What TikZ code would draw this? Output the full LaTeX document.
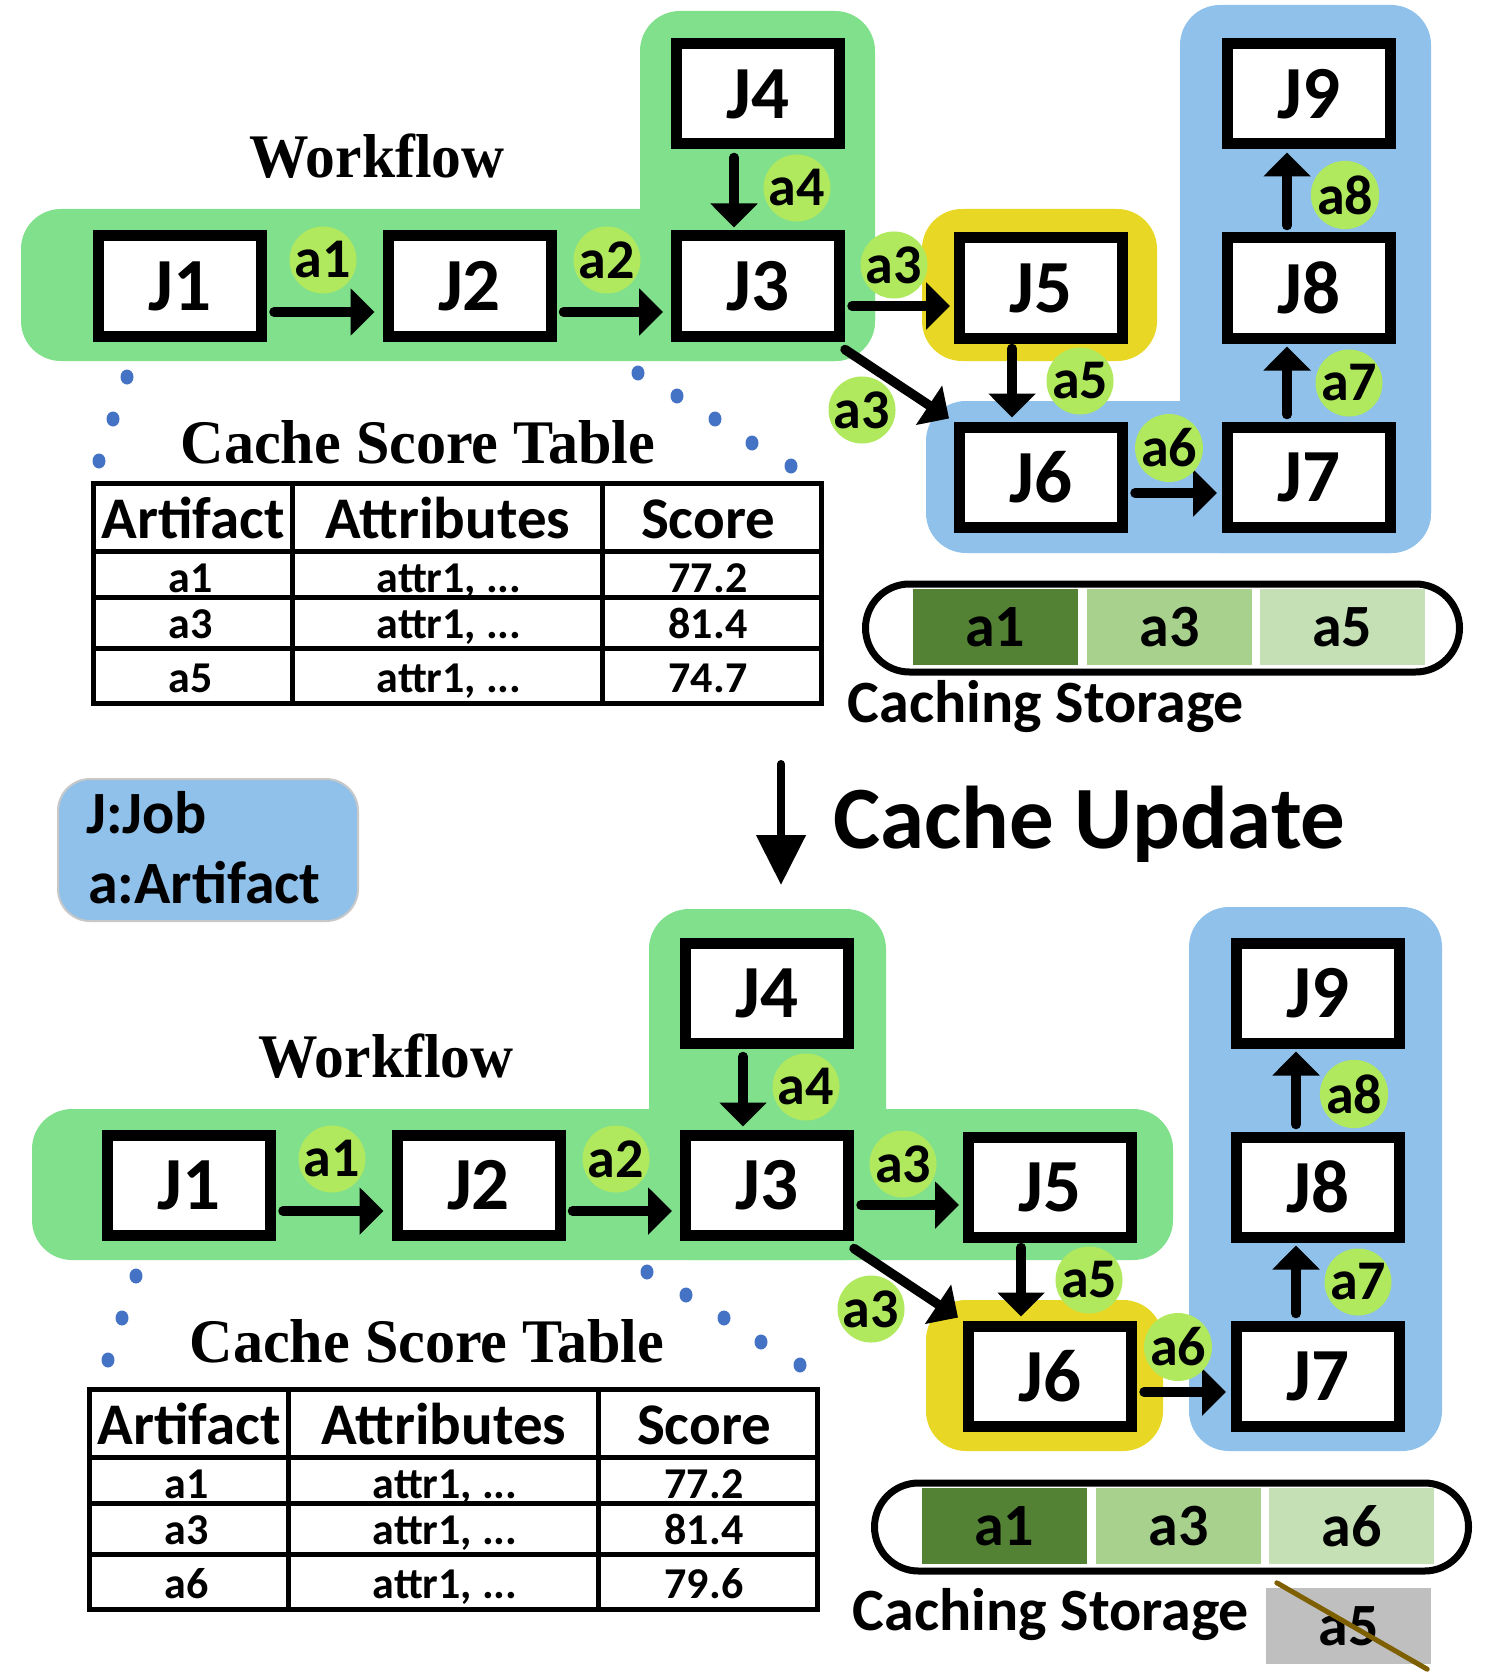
\documentclass[tikz,border=0pt]{standalone}
\usepackage{fontspec}
\usetikzlibrary{arrows.meta,calc}
\newfontfamily\calfont{Carlito}
\newfontfamily\tmsfont{Liberation Serif}
\definecolor{wfgreen}{HTML}{80E08C}
\definecolor{labgreen}{HTML}{B0E85E}
\definecolor{jblue}{HTML}{8FC1EA}
\definecolor{jyellow}{HTML}{E8D825}
\definecolor{dotblue}{HTML}{4472C4}
\definecolor{cdark}{HTML}{548235}
\definecolor{cmid}{HTML}{A9D18E}
\definecolor{clight}{HTML}{C5E0B4}
\definecolor{cgrey}{HTML}{BFBFBF}
\definecolor{strikebrown}{HTML}{7F6000}
\definecolor{legborder}{HTML}{C8C8C8}
\newcommand\celltxt[1]{\raisebox{-5pt}{#1}}
\tikzset{
  jbox/.style={draw=black, fill=white, line width=11pt, minimum width=163pt, minimum height=100pt, inner sep=0pt, font=\calfont\bfseries\fontsize{75}{75}\selectfont},
  lab/.style={circle, fill=labgreen, inner sep=0pt, minimum size=66pt, font=\calfont\bfseries\fontsize{56}{56}\selectfont},
  arr/.style={line width=9.5pt, line cap=round, -{Triangle[length=24pt,width=46pt]}},
  bgshape/.style={rounded corners=40pt},
  bdot/.style={fill=dotblue},
  ttl/.style={anchor=base, inner sep=0pt, font=\tmsfont\bfseries\fontsize{62}{62}\selectfont},
  tline/.style={line width=5pt},
  thead/.style={anchor=base, inner sep=0pt, font=\calfont\bfseries\fontsize{59}{59}\selectfont},
  tcell/.style={anchor=base, inner sep=0pt, font=\calfont\bfseries\fontsize{44}{44}\selectfont},
  capsule/.style={draw=black, line width=7pt, rounded corners=44pt, minimum width=594pt, minimum height=88pt, inner sep=0pt},
  cell/.style={minimum width=165pt, minimum height=76pt, inner sep=0pt, font=\calfont\bfseries\fontsize{60}{60}\selectfont},
  capt/.style={anchor=base, inner sep=0pt, font=\calfont\bfseries\fontsize{60}{60}\selectfont},
  legtxt/.style={anchor=base west, inner sep=0pt, font=\calfont\bfseries\fontsize{60}{60}\selectfont},
}
\newcommand\WFcore{%
  \node[jbox] (J1) at (180,286) {J1};
  \node[jbox] (J2) at (469.5,286) {J2};
  \node[jbox] (J3) at (758,286) {J3};
  \node[jbox] (J4) at (758,94) {J4};
  \node[jbox] (J5) at (1041,288) {J5};
  \node[jbox] (J6) at (1041,477) {J6};
  \node[jbox] (J7) at (1309,477) {J7};
  \node[jbox] (J8) at (1309,288) {J8};
  \node[jbox] (J9) at (1309,94) {J9};
  \draw[arr] ($(J1.east)+(7,26)$) -- ($(J2.west)+(-8,26)$);
  \draw[arr] ($(J2.east)+(7,26)$) -- ($(J3.west)+(-8,26)$);
  \draw[arr] ($(J4.south)+(-24,8)$) -- ($(J3.north)+(-24,-3)$);
  \draw[arr] ($(J3.east)+(7,20)$) -- ($(J5.west)+(-4,18)$);
  \draw[arr] ($(J3.south east)+(0,8)$) -- ($(J6.north west)+(-5,-3)$);
  \draw[arr] ($(J5.south)+(-29,5)$) -- ($(J6.north)+(-29,-4)$);
  \draw[arr] ($(J6.east)+(7,16)$) -- ($(J7.west)+(-5,16)$);
  \draw[arr] ($(J7.north)+(-22,-7)$) -- ($(J8.south)+(-22,3)$);
  \draw[arr] ($(J8.north)+(-22,-7)$) -- ($(J9.south)+(-22,3)$);
  \node[lab] (L1) at (323,260) {a1};
  \node[lab] (L2) at (607,260) {a2};
  \node[lab] (L4) at (797,188) {a4};
  \node[lab] (L3) at (894,265) {a3};
  \node[lab] (L3b) at (862,410) {a3};
  \node[lab] (L5) at (1080,381) {a5};
  \node[lab] (L6) at (1169,448) {a6};
  \node[lab] (L7) at (1349,383) {a7};
  \node[lab] (L8) at (1345,195) {a8};
  \foreach \p in {(127,377),(113,419),(99,461),(638,373),(677,396),(715,419),(752,443),(791,466)}
    \fill[bdot] \p ellipse [x radius=6.5pt, y radius=7.5pt];
  \node[ttl] (WF) at (377,178) {\scalebox{0.96}[1]{Workflow}};
  \node[ttl] (CST) at (418,463) {\scalebox{0.97}[1]{Cache Score Table}};
}
\newcommand\ScoreTable[2]{%
  \draw[tline] (93,483) rectangle (821,703);
  \draw[tline] (93,551) -- (821,551) (93,597) -- (821,597) (93,648) -- (821,648);
  \draw[tline] (292,483) -- (292,703) (602,483) -- (602,703);
  \node[thead] (H1) at (193,538) {Artifact};
  \node[thead] (H2) at (448,538) {Attributes};
  \node[thead] (H3) at (708,538) {Score};
  \node[tcell] (R1a) at (191,592) {a1};
  \node[tcell] (R1b) at (449,592) {attr1, ...};
  \node[tcell] (R1c) at (708,592) {77.2};
  \node[tcell] (R2a) at (191,638) {a3};
  \node[tcell] (R2b) at (449,638) {attr1, ...};
  \node[tcell] (R2c) at (708,638) {81.4};
  \node[tcell] (R3a) at (191,692) {#1};
  \node[tcell] (R3b) at (449,692) {attr1, ...};
  \node[tcell] (R3c) at (708,692) {#2};
}
\begin{document}
\begin{tikzpicture}[x=1pt,y=-1pt]
\useasboundingbox (0,0) rectangle (1492,1677);
% ---------- top section
\begin{scope}[name prefix=t-]
  \fill[wfgreen, bgshape] (640,11) rectangle (875,361);
  \fill[wfgreen, bgshape] (21,209) rectangle (875,361);
  \fill[jyellow, bgshape] (922,209) rectangle (1157,361);
  \fill[jblue, bgshape] (1180,5) rectangle (1431,553);
  \fill[jblue, bgshape] (926,401) rectangle (1431,553);
  \WFcore
  \ScoreTable{a5}{74.7}
  \node[capsule] (cap) at (1162.5,628) {};
  \node[cell, fill=cdark] (c1) at (995,627) {\celltxt{a1}};
  \node[cell, fill=cmid] (c2) at (1169.5,627) {\celltxt{a3}};
  \node[cell, fill=clight] (c3) at (1342,627) {\celltxt{a5}};
  \node[capt] (cs) at (1046,722) {Caching Storage};
\end{scope}
% ---------- legend and update arrow
\node[draw=legborder, line width=2pt, fill=jblue, rounded corners=32pt, minimum width=300pt, minimum height=142pt, inner sep=0pt] (legend) at (208,850) {};
\node[legtxt] (lj) at (86,833) {J:Job};
\node[legtxt] (la) at (88,903) {a:Artifact};
\coordinate (cu1) at (781,764);
\coordinate (cu2) at (781,885);
\draw[line width=8pt, line cap=round, -{Triangle[length=50pt,width=48pt]}] (cu1) -- (cu2);
\node[anchor=base west, inner sep=0pt, font=\calfont\bfseries\fontsize{89}{89}\selectfont] (cut) at (833,848) {Cache Update};
% ---------- bottom section
\begin{scope}[name prefix=b-, shift={(9,899)}]
  \fill[wfgreen, bgshape] (640,10) rectangle (877,361);
  \fill[wfgreen, bgshape] (23,210) rectangle (1164,361);
  \fill[jyellow, bgshape] (917,401) rectangle (1154,552);
  \fill[jblue, bgshape] (1180,8) rectangle (1433,552);
  \WFcore
  \node[capsule] (cap) at (1162.5,628) {};
  \node[cell, fill=cdark] (c1) at (995,627) {\celltxt{a1}};
  \node[cell, fill=cmid] (c2) at (1169.5,627) {\celltxt{a3}};
  \node[cell, fill=clight] (c3) at (1342.5,627) {\celltxt{a6}};
  \node[capt] (cs) at (1042,731) {Caching Storage};
  \node[cell, fill=cgrey] (g5) at (1339.5,727) {\celltxt{a5}};
  \draw[line width=5pt, strikebrown, line cap=round] ($(g5.north west)+(11,-5)$) -- ($(g5.south east)+(-4,5)$);
\end{scope}
\begin{scope}[name prefix=bt-, shift={(-4,906)}]
  \ScoreTable{a6}{79.6}
\end{scope}
\end{tikzpicture}
\end{document}
